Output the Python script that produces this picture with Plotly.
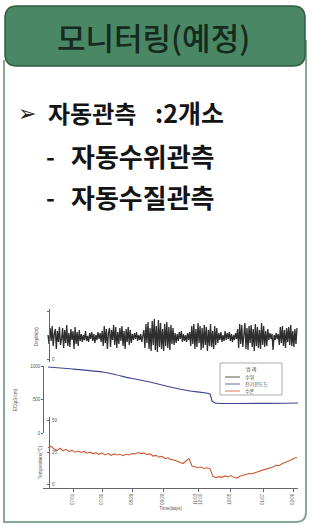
import plotly.graph_objects as go
import numpy as np

W, H = 313, 526

# ---------------- data ----------------
header_text = "모니터링(예정)"
line1_a = "자동관측"
line1_b = ":2개소"
line2 = "자동수위관측"
line3 = "자동수질관측"

series_names = ["수위", "전기전도도", "수온"]
legend_title = "범 례"

# water level fluctuation (relative, top panel)
depth = [2, -7, 9, -4, 11, -9, 3, 8, -12, 6, -5, 10, -8, -2, 9, -11, 7, -6, 12, -9, 4, -10, 8, -3, 6, -12, 10, -7, 5, -9, 7, -4,
         3, -5, 2, -3, 6, -4, 1, -5, 4, -2, 5, -4, 3, -6, 2, -3, 5, -2, 4, -5,
         6, -9, 11, -6, 8, -12, 4, 9, -10, 7, -3, 12, -8, 10, -11, 5, -7, 9, -4, 11, -9, 6, -12, 8, -5, 10, -8, 7, -6, 3,
         -3, 4, -2, 5, -4, 2, -3, 3, -5, 2,
         7, -11, 13, -6, 15, -12, 9, -14, 16, -8, 18, -13, 11, -15, 17, -10, 14, -12, 8, -14, 13, -9, 15, -11, 10, -13, 12, -7, 9, -8,
         4, -6, 3, -4, 5, -2, 6, -5, 3, -4, 2, -5, 4, -3, 5,
         -9, 11, -7, 13, -12, 8, -10, 14, -6, 11, -13, 9, -11, 12, -8, 10, -14, 7, -9, 13, -10, 6, -12, 11, -8, 9, -6,
         4, -3, 5, -5, 2, -4, 6, -3, 4, -2, 5, -4, 3, -5, 2, -3, 4, -2,
         8, -11, 13, -7, 12, -10, 4, 14, -12, 9, -13, 11, -6, 12, -10, 8, -14, 13, -9, 10, -11, 7, -12, 14, -8, 11, -10, 6, -9, 8,
         -3, 4, -2, 3, -13, 2, -3, 4, -2, 3,
         -8, 10, -6, 11, -9, 7, -11, 9, -5, 10, -8, 12, -9, 6, -10, 8, -7, 9]
depth_days = np.linspace(5, 254, len(depth))

# electric conductivity (middle panel)
ec_days = [5, 30, 60, 87, 107, 127, 147, 167, 169, 172, 255]
ec_vals = [985, 955, 910, 821, 761, 687, 627, 582, 478, 448, 448]

# water temperature (bottom panel)
temp_days = list(range(5, 255, 3))
temp_vals = [21.3, 21.8, 21.0, 20.6, 21.2, 20.5, 20.9, 20.3, 20.6, 20.1,
             20.4, 20.0, 20.3, 19.8, 20.1, 19.7, 19.9, 19.5, 19.9, 19.3,
             19.7, 19.2, 19.6, 19.3, 19.5, 19.1, 19.5, 19.3, 19.7, 19.6,
             20.0, 19.7, 19.9, 19.4, 19.6, 19.0, 19.2, 18.7, 18.9, 18.3,
             18.5, 18.0, 17.9, 17.5, 17.3, 16.9, 17.6, 18.3, 16.2, 16.0,
             15.7, 15.9, 15.5, 15.7, 15.4, 13.3, 12.9, 13.2, 13.0, 13.4,
             13.1, 13.5, 13.0, 12.8, 13.4, 13.6, 13.9, 14.1, 14.0, 14.4,
             14.6, 14.9, 15.1, 15.4, 15.7, 15.9, 16.4, 16.3, 16.8, 17.1,
             17.5, 17.9, 18.4, 18.6]

x_tick_vals = [0, 30, 59, 89, 120, 155, 187, 220, 250]
x_tick_text = ["06/01", "07/01", "07/30", "08/29", "09/29", "11/03<br>12:00",
               "12/05", "01/07", "02/06"]

series_colors = ["#2e2e2e", "#3d4690", "#cc5a34"]

# ---------------- helpers ----------------
def px_x(v):
    return v / W

def px_y(v):
    return 1 - v / H

FONT_KR = "Noto Sans CJK KR"
tiny = dict(size=4.5, color="#555", family="Liberation Sans")

fig = go.Figure()
fig.add_trace(go.Scatter(x=depth_days, y=depth, mode="lines", name=series_names[0],
                         line=dict(color=series_colors[0], width=1.3), xaxis="x", yaxis="y"))
fig.add_trace(go.Scatter(x=ec_days, y=ec_vals, mode="lines", name=series_names[1],
                         line=dict(color=series_colors[1], width=1.2, shape="spline", smoothing=0.4),
                         xaxis="x2", yaxis="y2"))
fig.add_trace(go.Scatter(x=temp_days, y=temp_vals, mode="lines", name=series_names[2],
                         line=dict(color=series_colors[2], width=1.1), xaxis="x3", yaxis="y3"))

xdom = [px_x(43), px_x(298)]
common_x = dict(domain=xdom, range=[0, 255], showgrid=False, zeroline=False)

fig.update_layout(
    width=W, height=H, margin=dict(l=0, r=0, t=0, b=0, autoexpand=False),
    paper_bgcolor="white", plot_bgcolor="rgba(0,0,0,0)",
    showlegend=False,
    xaxis=dict(**common_x, anchor="y", visible=False),
    xaxis2=dict(**common_x, anchor="y2", visible=False),
    xaxis3=dict(**common_x, anchor="y3", showline=True, linecolor="#666", linewidth=0.8,
                ticks="outside", ticklen=3, tickcolor="#666",
                tickvals=x_tick_vals, ticktext=x_tick_text, tickangle=-90,
                tickfont=tiny, automargin=False,
                title=dict(text="Time(days)", font=tiny, standoff=2)),
    yaxis=dict(domain=[px_y(362), px_y(309)], range=[-25, 28], anchor="free",
               position=px_x(49), showline=True, linecolor="#666", linewidth=0.8,
               showgrid=False, zeroline=False, ticks="outside", ticklen=2,
               tickcolor="#666", tickvals=[-22, 26], ticktext=["0", "50"],
               ticklabelposition="inside", tickfont=tiny, automargin=False),
    yaxis2=dict(domain=[px_y(433), px_y(366)], range=[0, 1000], anchor="free",
                position=px_x(43), showline=True, linecolor="#666", linewidth=0.8,
                showgrid=False, zeroline=False, ticks="outside", ticklen=2,
                tickcolor="#666", tickvals=[0, 500, 1000], tickfont=tiny, automargin=False),
    yaxis3=dict(domain=[px_y(488), px_y(417)], range=[10, 30], anchor="free",
                position=px_x(49), showline=True, linecolor="#666", linewidth=0.8,
                showgrid=False, zeroline=False, ticks="outside", ticklen=2,
                tickcolor="#666", tickvals=[11, 20, 29], ticktext=["0", "25", "50"],
                ticklabelposition="inside", tickfont=tiny, automargin=False),
)

# panel frame (rounded bottom-right corner)
frame = (f"M {px_x(4)} {px_y(60)} L {px_x(4)} {px_y(522)} L {px_x(296)} {px_y(522)} "
         f"Q {px_x(306)} {px_y(522)} {px_x(306)} {px_y(512)} L {px_x(306)} {px_y(40)}")
shapes = [
    dict(type="path", xref="paper", yref="paper", path=frame,
         line=dict(color="#86a896", width=2)),
]
# header rounded rectangle
r = 12
x0, x1, y0, y1 = 5, 305, 6, 66
hdr = (f"M {px_x(x0 + r)} {px_y(y0)} L {px_x(x1 - r)} {px_y(y0)} "
       f"Q {px_x(x1)} {px_y(y0)} {px_x(x1)} {px_y(y0 + r)} "
       f"L {px_x(x1)} {px_y(y1 - r)} Q {px_x(x1)} {px_y(y1)} {px_x(x1 - r)} {px_y(y1)} "
       f"L {px_x(x0 + r)} {px_y(y1)} Q {px_x(x0)} {px_y(y1)} {px_x(x0)} {px_y(y1 - r)} "
       f"L {px_x(x0)} {px_y(y0 + r)} Q {px_x(x0)} {px_y(y0)} {px_x(x0 + r)} {px_y(y0)} Z")
shapes.append(dict(type="path", xref="paper", yref="paper", path=hdr,
                   fillcolor="#4a8765", line=dict(color="#2f5e45", width=1.5)))

# legend box (drawn manually to get the compact size of the original)
lg_x0, lg_x1, lg_y0, lg_y1 = 220, 282, 363, 395
shapes.append(dict(type="rect", xref="paper", yref="paper",
                   x0=px_x(lg_x0), x1=px_x(lg_x1), y0=px_y(lg_y1), y1=px_y(lg_y0),
                   fillcolor="white", line=dict(color="#888", width=0.7)))
legend_rows = [377, 384, 391]
for i, ry in enumerate(legend_rows):
    shapes.append(dict(type="line", xref="paper", yref="paper",
                       x0=px_x(225), x1=px_x(240), y0=px_y(ry), y1=px_y(ry),
                       line=dict(color=series_colors[i], width=0.8)))
fig.update_layout(shapes=shapes)

ann = []
ann.append(dict(text=header_text, x=px_x(153), y=px_y(37), xref="paper", yref="paper",
                showarrow=False, xanchor="center", yanchor="middle",
                font=dict(size=31, family=FONT_KR, color="#172a1e", weight=500)))
body = dict(family=FONT_KR, color="#141414", weight=700)
ann.append(dict(text="➢", x=px_x(16), y=px_y(113), xref="paper", yref="paper",
                showarrow=False, xanchor="left", yanchor="middle",
                font=dict(size=22, family="DejaVu Sans", color="#222")))
ann.append(dict(text=line1_a, x=px_x(46), y=px_y(112), xref="paper", yref="paper",
                showarrow=False, xanchor="left", yanchor="middle", font=dict(size=24, **body)))
ann.append(dict(text=line1_b, x=px_x(153), y=px_y(112), xref="paper", yref="paper",
                showarrow=False, xanchor="left", yanchor="middle", font=dict(size=25, **body)))
for yy, t in [(155, line2), (197, line3)]:
    ann.append(dict(text="-", x=px_x(44), y=px_y(yy), xref="paper", yref="paper",
                    showarrow=False, xanchor="left", yanchor="middle", font=dict(size=24, **body)))
    ann.append(dict(text=t, x=px_x(69), y=px_y(yy), xref="paper", yref="paper",
                    showarrow=False, xanchor="left", yanchor="middle", font=dict(size=26, **body)))
# axis titles
for xx, yy, t in [(36, 337, "Depth(m)"), (15, 400, "EC(μS/cm)"), (40, 462, "Temperature(°C)")]:
    ann.append(dict(text=t, x=px_x(xx), y=px_y(yy), xref="paper", yref="paper",
                    showarrow=False, textangle=-90, xanchor="center", yanchor="middle",
                    font=tiny))
# legend texts
lg_font = dict(size=5, family=FONT_KR, color="#444")
ann.append(dict(text=legend_title, x=px_x((lg_x0 + lg_x1) / 2), y=px_y(369), xref="paper",
                yref="paper", showarrow=False, xanchor="center", yanchor="middle", font=lg_font))
for name, ry in zip(series_names, legend_rows):
    ann.append(dict(text=name, x=px_x(243), y=px_y(ry), xref="paper", yref="paper",
                    showarrow=False, xanchor="left", yanchor="middle", font=lg_font))
fig.update_layout(annotations=ann)

fig.write_html("out.html", config={"displayModeBar": False},
               post_script="document.body.style.margin='0';document.body.style.overflow='hidden';")
